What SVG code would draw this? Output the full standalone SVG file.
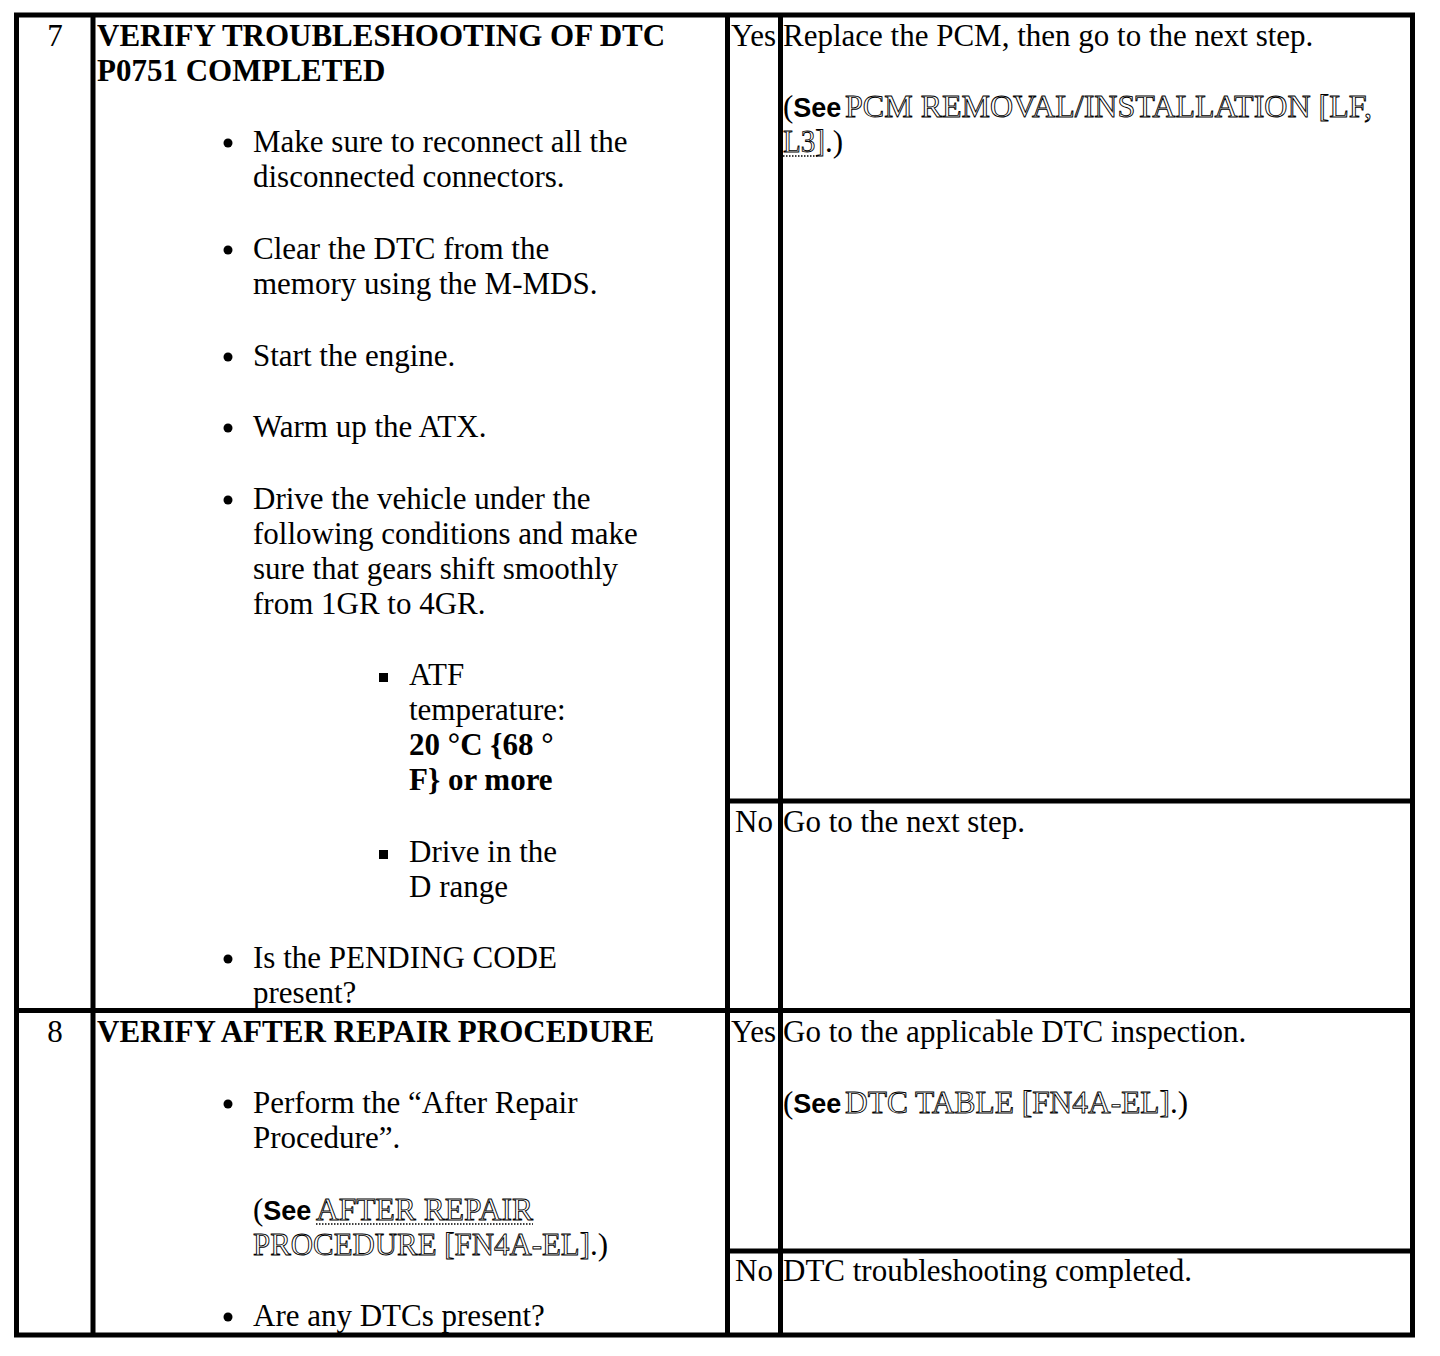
<svg xmlns="http://www.w3.org/2000/svg" width="1440" height="1356" viewBox="0 0 1440 1356">
<style>
.t{font-family:"Liberation Serif","Times New Roman",serif;font-size:31px;fill:#000}
.b{font-weight:bold}
.see{font-family:"Liberation Sans",Arial,sans-serif;font-weight:bold;font-size:27px}
.lk{fill:#fff;stroke:#000;stroke-width:0.9}
.ln{stroke:#000;stroke-width:5;fill:none}
.ul{stroke:#000;stroke-width:1.5;stroke-dasharray:1.5 1.5;fill:none}
</style>
<rect width="1440" height="1356" fill="#fff"/>
<g id="grid">
<rect class="ln" x="16.5" y="15" width="1396" height="1320"/>
<line class="ln" x1="93" y1="15" x2="93" y2="1335"/>
<line class="ln" x1="727.5" y1="15" x2="727.5" y2="1335"/>
<line class="ln" x1="780.5" y1="15" x2="780.5" y2="1335"/>
<line class="ln" x1="16.5" y1="1010.5" x2="1412.5" y2="1010.5"/>
<line class="ln" x1="727.5" y1="801" x2="1412.5" y2="801"/>
<line class="ln" x1="727.5" y1="1251" x2="1412.5" y2="1251"/>
</g>
<g id="step7-num"><text class="t" x="55" y="46" text-anchor="middle">7</text></g>
<g id="step7-body">
<text class="t b" x="97" y="46">VERIFY TROUBLESHOOTING OF DTC</text>
<text class="t b" x="97" y="81">P0751 COMPLETED</text>
<circle cx="228" cy="143" r="4.5"/>
<text class="t" x="253" y="152">Make sure to reconnect all the</text>
<text class="t" x="253" y="187">disconnected connectors.</text>
<circle cx="228" cy="250" r="4.5"/>
<text class="t" x="253" y="259">Clear the DTC from the</text>
<text class="t" x="253" y="294">memory using the M-MDS.</text>
<circle cx="228" cy="357" r="4.5"/>
<text class="t" x="253" y="366">Start the engine.</text>
<circle cx="228" cy="428" r="4.5"/>
<text class="t" x="253" y="437">Warm up the ATX.</text>
<circle cx="228" cy="500" r="4.5"/>
<text class="t" x="253" y="509">Drive the vehicle under the</text>
<text class="t" x="253" y="544">following conditions and make</text>
<text class="t" x="253" y="579">sure that gears shift smoothly</text>
<text class="t" x="253" y="614">from 1GR to 4GR.</text>
<rect x="379" y="673" width="9" height="9"/>
<text class="t" x="409" y="685">ATF</text>
<text class="t" x="409" y="720">temperature:</text>
<text class="t b" x="409" y="755">20 °C {68 °</text>
<text class="t b" x="409" y="790">F} or more</text>
<rect x="379" y="850" width="9" height="9"/>
<text class="t" x="409" y="862">Drive in the</text>
<text class="t" x="409" y="897">D range</text>
<circle cx="228" cy="959" r="4.5"/>
<text class="t" x="253" y="968">Is the PENDING CODE</text>
<text class="t" x="253" y="1003">present?</text>
</g>
<g id="step7-yes">
<text class="t" x="731" y="46">Yes</text>
<text class="t" x="783" y="46">Replace the PCM, then go to the next step.</text>
<text class="t" x="783" y="117">(<tspan class="see">See</tspan></text>
<text class="t lk" x="845" y="117" textLength="527" lengthAdjust="spacingAndGlyphs">PCM REMOVAL/INSTALLATION [LF,</text>
<text class="t lk" x="783" y="152" textLength="42" lengthAdjust="spacingAndGlyphs">L3]</text>
<text class="t" x="825" y="152">.)</text>
<line class="ul" x1="783" y1="156" x2="818" y2="156"/>
</g>
<g id="step7-no">
<text class="t" x="735" y="832">No</text>
<text class="t" x="783" y="832">Go to the next step.</text>
</g>
<g id="step8-num"><text class="t" x="55" y="1042" text-anchor="middle">8</text></g>
<g id="step8-body">
<text class="t b" x="97" y="1042">VERIFY AFTER REPAIR PROCEDURE</text>
<circle cx="228" cy="1104" r="4.5"/>
<text class="t" x="253" y="1113">Perform the “After Repair</text>
<text class="t" x="253" y="1148">Procedure”.</text>
<text class="t" x="253" y="1220">(<tspan class="see">See</tspan></text>
<text class="t lk" x="316" y="1220" textLength="217" lengthAdjust="spacingAndGlyphs">AFTER REPAIR</text>
<line class="ul" x1="316" y1="1224" x2="533" y2="1224"/>
<text class="t lk" x="253" y="1255" textLength="337" lengthAdjust="spacingAndGlyphs">PROCEDURE [FN4A-EL]</text>
<text class="t" x="590" y="1255">.)</text>
<circle cx="228" cy="1317" r="4.5"/>
<text class="t" x="253" y="1326">Are any DTCs present?</text>
</g>
<g id="step8-yes">
<text class="t" x="731" y="1042">Yes</text>
<text class="t" x="783" y="1042">Go to the applicable DTC inspection.</text>
<text class="t" x="783" y="1113">(<tspan class="see">See</tspan></text>
<text class="t lk" x="845" y="1113" textLength="325" lengthAdjust="spacingAndGlyphs">DTC TABLE [FN4A-EL]</text>
<text class="t" x="1170" y="1113">.)</text>
</g>
<g id="step8-no">
<text class="t" x="735" y="1281">No</text>
<text class="t" x="783" y="1281">DTC troubleshooting completed.</text>
</g>
</svg>
